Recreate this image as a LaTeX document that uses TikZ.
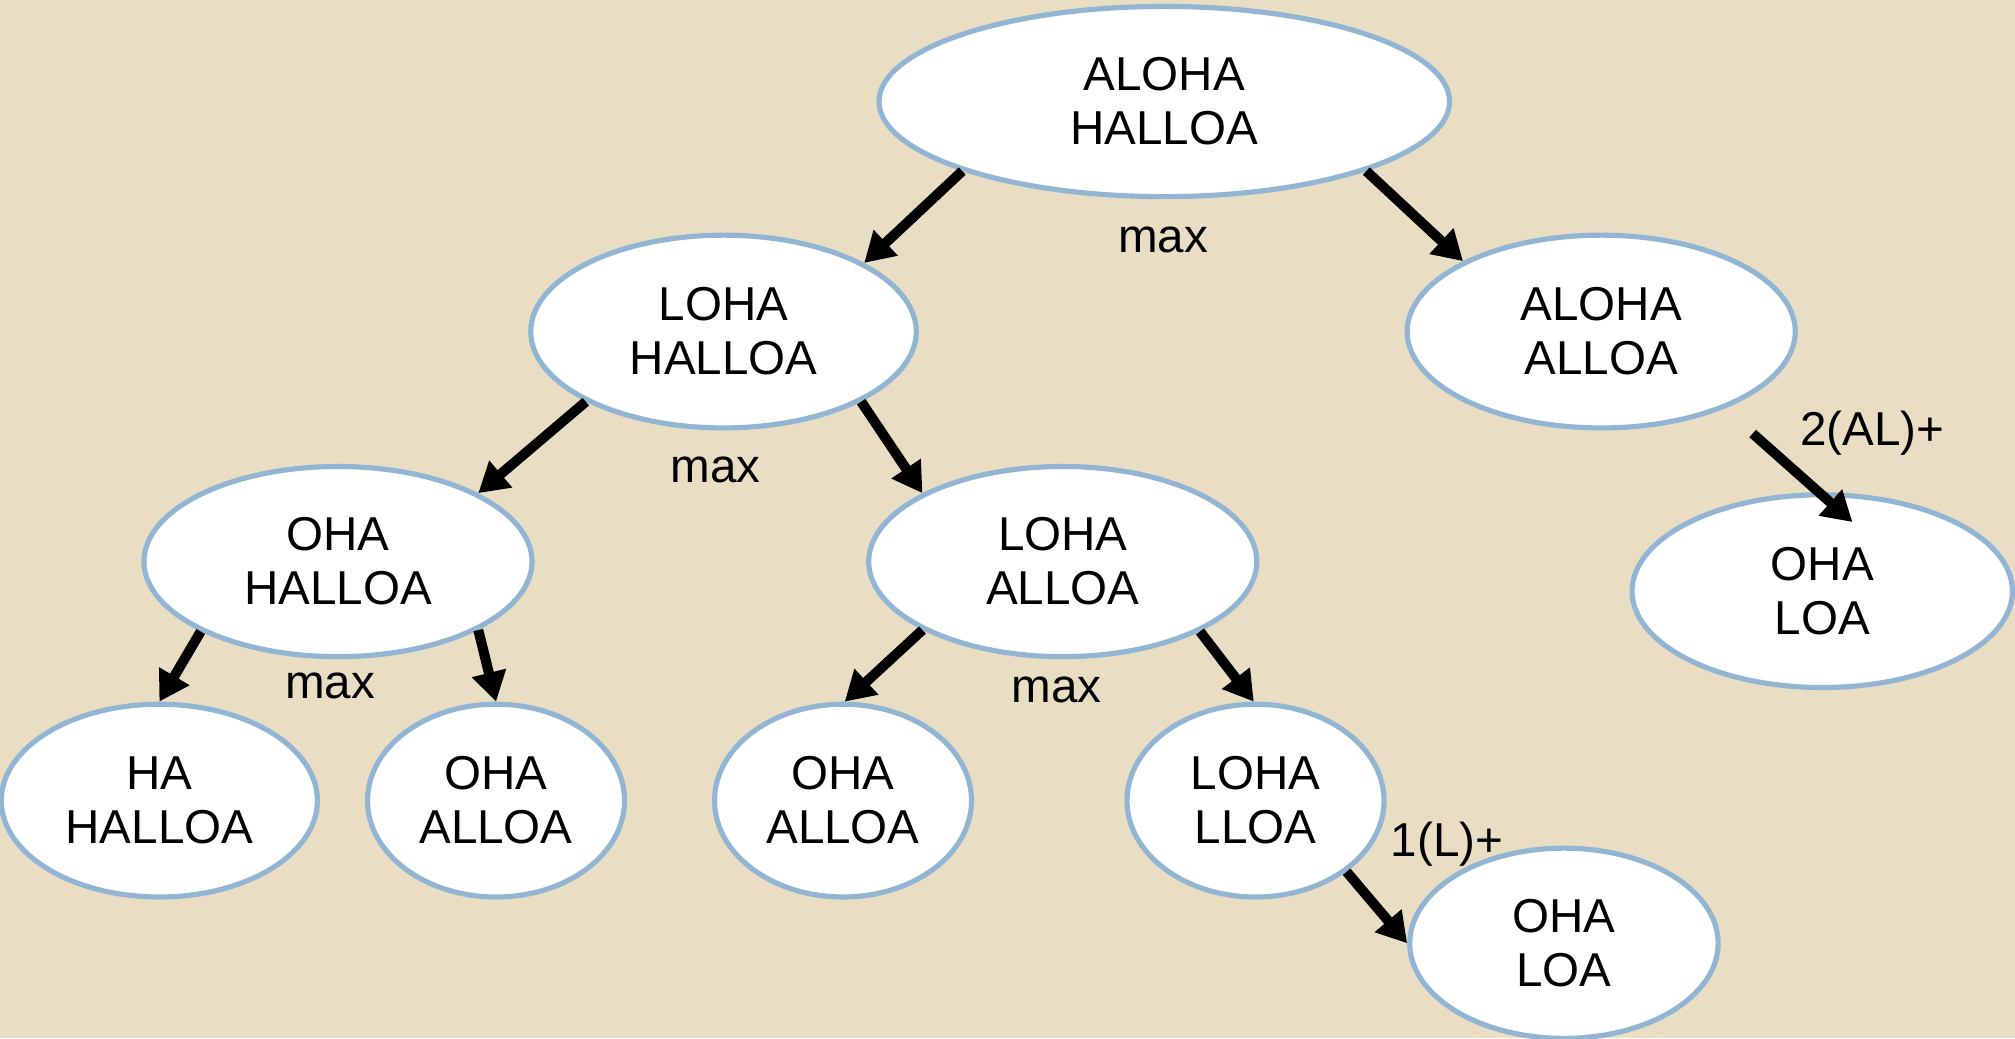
\documentclass[tikz,border=0pt]{standalone}
\usepackage{fontspec}
\setmainfont{Liberation Sans}
\usetikzlibrary{shapes.geometric,arrows.meta}
\definecolor{bgbeige}{RGB}{233,221,196}
\definecolor{ebord}{RGB}{146,181,212}
\tikzset{
  el/.style 2 args={ellipse, draw=ebord, fill=white, line width=2pt,
    minimum width=#1, minimum height=#2, inner sep=0pt, align=center},
  conn/.style={line width=3.9pt, -{Triangle[length=11.5pt,width=13pt]}},
  lbl/.style={inner sep=0pt}
}
\begin{document}
\begin{tikzpicture}[x=0.5pt,y=-0.5pt,font=\fontsize{18.5pt}{21pt}\selectfont]
\fill[bgbeige] (0,0) rectangle (1568,808);
\useasboundingbox (0,0) rectangle (1568,808);
% nodes
\node[el={222pt}{74pt}] (root) at (906,79) {ALOHA\\HALLOA};
\node[el={150pt}{75pt}] (loha) at (563,258) {LOHA\\HALLOA};
\node[el={151pt}{75pt}] (aa) at (1246,258) {ALOHA\\ALLOA};
\node[el={151pt}{74pt}] (ohah) at (263,437) {OHA\\HALLOA};
\node[el={151pt}{74pt}] (lohaa) at (827,437) {LOHA\\ALLOA};
\node[el={148pt}{75pt}] (oloa1) at (1418,460) {OHA\\LOA};
\node[el={123pt}{75pt}] (ha) at (124,623) {HA\\HALLOA};
\node[el={100pt}{75pt}] (ohaa1) at (386,623) {OHA\\ALLOA};
\node[el={100pt}{75pt}] (ohaa2) at (656,623) {OHA\\ALLOA};
\node[el={100pt}{75pt}] (lohal) at (977,623) {LOHA\\LLOA};
\node[el={120pt}{74pt}] (oloa2) at (1217,734) {OHA\\LOA};
% labels
\node[lbl] (m1) at (905,187) {max};
\node[lbl] (m2) at (557,366) {max};
\node[lbl] (m3) at (257,534) {max};
\node[lbl] (m4) at (822,537) {max};
\node[lbl] (l1) at (1457,337) {2(AL)+};
\node[lbl] (l2) at (1126,657) {1(L)+};
% connectors
\draw[conn] (root.199) -- (loha.26);
\draw[conn] (root.341) -- (aa.153);
\draw[conn] (loha.207) -- (ohah.26);
\draw[conn] (loha.333) -- (lohaa.154);
\draw[conn] (ohah.207) -- (ha.90);
\draw[conn] (ohah.334) -- (ohaa1.90);
\draw[conn] (lohaa.206) -- (ohaa2.89);
\draw[conn] (lohaa.333) -- (lohal.91);
\draw[conn] (lohal.322) -- (oloa2.180);
\draw[conn, shorten <=14.6pt, shorten >=-17.5pt] (aa.328) -- (oloa1.92);
\end{tikzpicture}
\end{document}
